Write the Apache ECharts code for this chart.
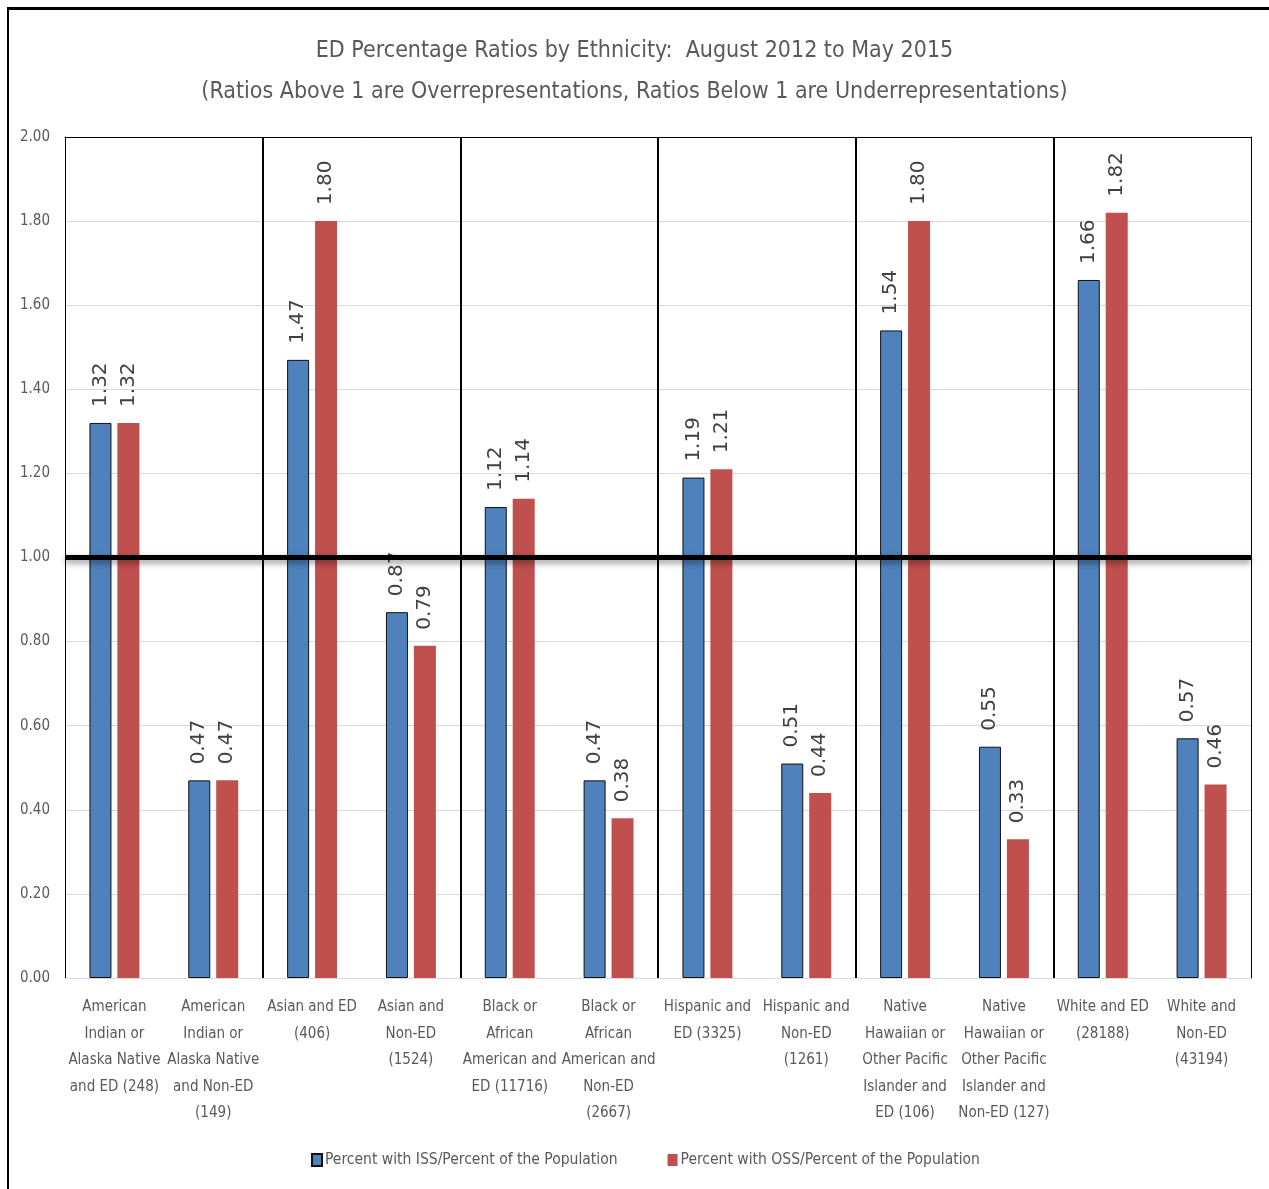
<!DOCTYPE html>
<html>
<head>
<meta charset="utf-8">
<script src="https://cdn.jsdelivr.net/npm/echarts@6/dist/echarts.min.js"></script>
<style>
  html, body { margin: 0; padding: 0; background: #fff; }
  #chart { width: 1269px; height: 1189px; }
  #frame {
    position: absolute; left: 7px; top: 7px; width: 1262px; height: 1182px;
    border-top: 3px solid #000; border-left: 2px solid #000;
    box-sizing: border-box; pointer-events: none;
  }
</style>
</head>
<body>
<div id="chart"></div>
<div id="frame"></div>
<script>
// Group labels (line breaks as they wrap under each pair of bars)
const categories = [
  'American\nIndian or\nAlaska Native\nand ED (248)',
  'American\nIndian or\nAlaska Native\nand Non-ED\n(149)',
  'Asian and ED\n(406)',
  'Asian and\nNon-ED\n(1524)',
  'Black or\nAfrican\nAmerican and\nED (11716)',
  'Black or\nAfrican\nAmerican and\nNon-ED\n(2667)',
  'Hispanic and\nED (3325)',
  'Hispanic and\nNon-ED\n(1261)',
  'Native\nHawaiian or\nOther Pacific\nIslander and\nED (106)',
  'Native\nHawaiian or\nOther Pacific\nIslander and\nNon-ED (127)',
  'White and ED\n(28188)',
  'White and\nNon-ED\n(43194)'
];

// Ratio of in-school suspensions share to population share
const issRatios = [1.32, 0.47, 1.47, 0.87, 1.12, 0.47, 1.19, 0.51, 1.54, 0.55, 1.66, 0.57];
// Ratio of out-of-school suspensions share to population share
const ossRatios = [1.32, 0.47, 1.80, 0.79, 1.14, 0.38, 1.21, 0.44, 1.80, 0.33, 1.82, 0.46];

// Y axis ticks
const yTicks = [0, 0.2, 0.4, 0.6, 0.8, 1.0, 1.2, 1.4, 1.6, 1.8, 2.0];

// Dividers between ethnicity groups (category boundaries)
const groupDividers = [2, 4, 6, 8, 10];
const parityLevel = 1.0;

const narrow = '"Liberation Sans Narrow", "DejaVu Sans Condensed", "Arial Narrow", sans-serif';
const grey = '#595959';

const chart = echarts.init(document.getElementById('chart'), null, { renderer: 'canvas' });

const valueLabel = {
  show: true,
  position: 'top',
  rotate: 90,
  align: 'left',
  verticalAlign: 'middle',
  distance: 16,
  fontFamily: '"DejaVu Sans", Verdana, sans-serif',
  fontSize: 20,
  color: '#404040',
  formatter: p => p.value.toFixed(2)
};

chart.setOption({
  animation: false,
  backgroundColor: '#fff',
  title: {
    text: 'ED Percentage Ratios by Ethnicity:  August 2012 to May 2015\n(Ratios Above 1 are Overrepresentations, Ratios Below 1 are Underrepresentations)',
    left: 'center',
    top: 26,
    textStyle: {
      fontFamily: narrow,
      fontWeight: 'normal',
      fontSize: 23,
      lineHeight: 41,
      color: grey
    }
  },
  legend: {
    bottom: 16,
    left: 306,
    icon: 'rect',
    itemWidth: 10,
    itemHeight: 12,
    itemGap: 50,
    textStyle: { fontFamily: narrow, fontSize: 15.5, color: grey, padding: [0, 0, 0, -2] }
  },
  grid: { left: 65, right: 18, top: 137, bottom: 211 },
  xAxis: [
    {
      type: 'category',
      data: categories,
      axisTick: { show: false },
      axisLine: { show: true, lineStyle: { color: '#d9d9d9', width: 1 } },
      axisLabel: {
        interval: 0,
        margin: 16,
        fontFamily: narrow,
        fontSize: 15,
        lineHeight: 26.5,
        color: grey,
        verticalAlign: 'top'
      }
    },
    {
      // hidden linear axis across the categories, also draws the top border
      type: 'value',
      position: 'top',
      min: 0,
      max: categories.length,
      axisLine: { show: true, onZero: false, lineStyle: { color: '#000', width: 1 } },
      axisTick: { show: false },
      axisLabel: { show: false },
      splitLine: { show: false }
    }
  ],
  yAxis: [
    {
      type: 'value',
      min: yTicks[0],
      max: yTicks[yTicks.length - 1],
      interval: 0.2,
      axisLine: { show: true, lineStyle: { color: '#000', width: 1 } },
      axisTick: { show: false },
      axisLabel: {
        margin: 15,
        fontFamily: narrow,
        fontSize: 15,
        color: grey,
        formatter: v => v.toFixed(2)
      },
      splitLine: { lineStyle: { color: '#d9d9d9', width: 1 } }
    },
    {
      // right border of the plot
      type: 'value',
      position: 'right',
      min: yTicks[0],
      max: yTicks[yTicks.length - 1],
      interval: 0.2,
      axisLine: { show: true, lineStyle: { color: '#000', width: 1 } },
      axisTick: { show: false },
      axisLabel: { show: false },
      splitLine: { show: false }
    }
  ],
  series: [
    {
      name: 'Percent with ISS/Percent of the Population',
      type: 'bar',
      data: issRatios,
      barWidth: 22,
      barGap: '27%',
      itemStyle: { color: '#4F81BD', borderColor: '#111', borderWidth: 1 },
      label: valueLabel,
      z: 2
    },
    {
      name: 'Percent with OSS/Percent of the Population',
      type: 'bar',
      data: ossRatios,
      barWidth: 22,
      itemStyle: { color: '#C0504D' },
      label: valueLabel,
      z: 2
    },
    {
      // group dividers and the parity line
      type: 'line',
      xAxisIndex: 1,
      yAxisIndex: 0,
      data: [],
      silent: true,
      markLine: {
        silent: true,
        symbol: 'none',
        animation: false,
        label: { show: false },
        data: groupDividers.map(x => [
          { coord: [x, yTicks[0]], lineStyle: { color: '#000', width: 2, type: 'solid' } },
          { coord: [x, yTicks[yTicks.length - 1]] }
        ]).concat([
          [
            { coord: [0, parityLevel], lineStyle: {
              color: '#000', width: 5, type: 'solid',
              shadowColor: 'rgba(0,0,0,0.45)', shadowBlur: 6, shadowOffsetY: 3
            } },
            { coord: [categories.length, parityLevel] }
          ]
        ])
      },
      z: 5
    }
  ]
});
</script>
</body>
</html>
